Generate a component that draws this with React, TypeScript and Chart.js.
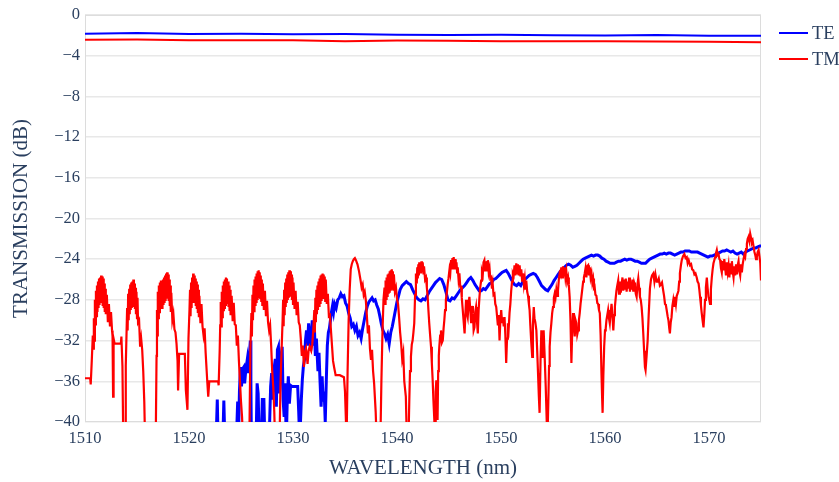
import { useEffect, useRef } from 'react';
import { Chart, registerables } from 'chart.js';

Chart.register(...registerables);

const xTickValues = [1510, 1520, 1530, 1540, 1550, 1560, 1570];
const yTickValues = [0, -4, -8, -12, -16, -20, -24, -28, -32, -36, -40];

const seriesLabels = ['TE', 'TM'];

// upper (through) traces
const teThrough: [number, number][] = [
  [1510, -1.85], [1515, -1.78], [1520, -1.88], [1525, -1.85], [1530, -1.9], [1535, -1.88], [1540, -1.95],
  [1545, -1.98], [1550, -1.95], [1555, -2.0], [1560, -2.02], [1565, -1.97], [1570, -2.05], [1575, -2.05],
];
const tmThrough: [number, number][] = [
  [1510, -2.45], [1515, -2.42], [1520, -2.5], [1525, -2.48], [1530, -2.5], [1535, -2.6], [1540, -2.52],
  [1545, -2.55], [1550, -2.6], [1555, -2.58], [1560, -2.6], [1565, -2.62], [1570, -2.65], [1575, -2.68],
];

// lower (drop) traces
const teDrop: [number, number][] = [
  [1522.6, -42], [1522.72, -37.8], [1522.8, -42], [1523.25, -42], [1523.35, -37.9], [1523.45, -42],
  [1524.55, -42], [1524.68, -38.0], [1524.75, -42], [1524.85, -37.0], [1524.95, -34.6], [1525.05, -36.5],
  [1525.15, -34.8], [1525.27, -34.6], [1525.35, -36.2], [1525.45, -35.0], [1525.6, -33.9], [1525.7, -35.2],
  [1525.8, -33.5], [1525.9, -32.0], [1525.95, -36.0], [1526.0, -42], [1526.45, -42], [1526.55, -36.2],
  [1526.65, -37.2], [1526.75, -42], [1526.95, -42], [1527.05, -37.8], [1527.2, -37.8], [1527.3, -42],
  [1527.7, -42], [1527.85, -36.5], [1527.95, -35.2], [1528.05, -37.8], [1528.15, -35.0], [1528.3, -33.8],
  [1528.4, -38.5], [1528.5, -32.9], [1528.6, -32.6], [1528.7, -37.2], [1528.8, -34.0], [1528.96, -32.6],
  [1529.05, -37.8], [1529.15, -39.5], [1529.25, -36.2], [1529.35, -42], [1529.45, -37.8], [1529.55, -35.5],
  [1529.65, -38.2], [1529.77, -36.4], [1529.9, -36.5], [1530.45, -36.5], [1530.55, -39.0], [1530.65, -42],
  [1530.8, -37.8], [1530.9, -35.8], [1531.0, -34.5], [1531.1, -33.9], [1531.2, -32.0], [1531.3, -31.0],
  [1531.4, -32.5], [1531.5, -30.3], [1531.6, -31.5], [1531.7, -33.0], [1531.85, -30.0], [1531.95, -32.5],
  [1532.05, -30.5], [1532.15, -33.5], [1532.25, -31.8], [1532.4, -35.0], [1532.5, -33.2], [1532.6, -36.0],
  [1532.7, -38.5], [1532.8, -35.5], [1532.9, -38.0], [1533.0, -37.0], [1533.1, -40.0], [1533.2, -36.0],
  [1533.3, -32.5], [1533.4, -31.2], [1533.5, -30.8], [1533.6, -30.0], [1533.7, -29.2], [1533.8, -28.6],
  [1533.9, -29.2], [1534.0, -28.4], [1534.15, -28.8], [1534.3, -28.0], [1534.45, -27.8], [1534.6, -27.4],
  [1534.75, -27.7], [1534.9, -27.6], [1535.05, -28.3], [1535.2, -28.6], [1535.35, -29.3], [1535.5, -29.8],
  [1535.65, -30.6], [1535.8, -30.4], [1535.95, -31.0], [1536.1, -30.6], [1536.25, -31.5], [1536.4, -31.2],
  [1536.55, -31.8], [1536.7, -30.8], [1536.85, -30.0], [1537.0, -29.2], [1537.15, -28.6], [1537.3, -28.2],
  [1537.45, -28.0], [1537.6, -27.8], [1537.75, -28.1], [1537.9, -28.0], [1538.05, -28.5], [1538.2, -28.9],
  [1538.35, -29.6], [1538.5, -30.4], [1538.65, -31.0], [1538.8, -31.3], [1538.95, -31.8], [1539.1, -31.4],
  [1539.25, -32.3], [1539.4, -31.2], [1539.55, -30.6], [1539.7, -29.8], [1539.85, -29.0], [1540.0, -28.2],
  [1540.15, -27.6], [1540.3, -27.0], [1540.5, -26.6], [1540.7, -26.4], [1540.9, -26.2], [1541.1, -26.4],
  [1541.3, -26.5], [1541.5, -27.0], [1541.7, -27.4], [1541.9, -27.8], [1542.1, -28.0], [1542.3, -28.1],
  [1542.5, -27.9], [1542.7, -28.0], [1542.9, -27.6], [1543.1, -27.2], [1543.3, -26.9], [1543.5, -26.6],
  [1543.7, -26.3], [1543.9, -26.1], [1544.1, -25.9], [1544.3, -26.0], [1544.5, -26.5], [1544.7, -27.2],
  [1544.9, -28.0], [1545.1, -28.1], [1545.3, -27.8], [1545.5, -27.9], [1545.7, -27.6], [1545.9, -27.3],
  [1546.1, -27.0], [1546.3, -26.8], [1546.5, -26.6], [1546.7, -26.3], [1546.9, -26.0], [1547.1, -25.8],
  [1547.3, -26.1], [1547.5, -26.5], [1547.7, -26.8], [1547.9, -27.1], [1548.1, -27.1], [1548.3, -26.9],
  [1548.5, -27.0], [1548.7, -26.7], [1548.9, -26.4], [1549.1, -26.3], [1549.3, -26.0], [1549.5, -25.9],
  [1549.7, -25.7], [1549.9, -25.5], [1550.1, -25.3], [1550.3, -25.2], [1550.5, -25.1], [1550.7, -25.4],
  [1550.9, -25.8], [1551.1, -26.2], [1551.3, -26.5], [1551.5, -26.6], [1551.7, -26.4], [1551.9, -26.6],
  [1552.1, -26.2], [1552.3, -26.0], [1552.5, -25.8], [1552.7, -25.6], [1552.9, -25.5], [1553.1, -25.4],
  [1553.3, -25.5], [1553.5, -25.8], [1553.7, -26.2], [1553.9, -26.6], [1554.1, -26.8], [1554.3, -27.0],
  [1554.5, -27.1], [1554.7, -26.8], [1554.9, -26.5], [1555.1, -26.1], [1555.3, -25.8], [1555.5, -25.5],
  [1555.7, -25.2], [1555.9, -25.0], [1556.1, -24.8], [1556.3, -24.6], [1556.5, -24.5], [1556.7, -24.6],
  [1556.9, -24.8], [1557.1, -24.7], [1557.3, -24.6], [1557.5, -24.4], [1557.7, -24.2], [1557.9, -24.0],
  [1558.1, -23.9], [1558.3, -23.8], [1558.5, -23.7], [1558.7, -23.6], [1558.9, -23.7], [1559.1, -23.6],
  [1559.3, -23.6], [1559.5, -23.7], [1559.7, -23.9], [1559.9, -24.0], [1560.1, -24.2], [1560.3, -24.3],
  [1560.5, -24.4], [1560.7, -24.4], [1560.9, -24.4], [1561.1, -24.3], [1561.3, -24.2], [1561.5, -24.2],
  [1561.7, -24.1], [1561.9, -24.0], [1562.1, -24.1], [1562.3, -24.0], [1562.5, -24.0], [1562.7, -24.1],
  [1562.9, -24.2], [1563.1, -24.2], [1563.3, -24.3], [1563.5, -24.4], [1563.7, -24.4], [1563.9, -24.4],
  [1564.1, -24.2], [1564.3, -24.0], [1564.5, -23.9], [1564.7, -23.8], [1564.9, -23.7], [1565.1, -23.6],
  [1565.3, -23.5], [1565.5, -23.5], [1565.7, -23.4], [1565.9, -23.5], [1566.1, -23.4], [1566.3, -23.4],
  [1566.5, -23.5], [1566.7, -23.6], [1566.9, -23.5], [1567.1, -23.4], [1567.3, -23.3], [1567.5, -23.3],
  [1567.7, -23.2], [1567.9, -23.2], [1568.1, -23.2], [1568.3, -23.3], [1568.5, -23.3], [1568.7, -23.3],
  [1568.9, -23.3], [1569.1, -23.4], [1569.3, -23.5], [1569.5, -23.6], [1569.7, -23.7], [1569.9, -23.8],
  [1570.1, -23.7], [1570.3, -23.7], [1570.5, -23.6], [1570.7, -23.5], [1570.9, -23.4], [1571.1, -23.3],
  [1571.3, -23.2], [1571.5, -23.2], [1571.7, -23.1], [1571.9, -23.2], [1572.1, -23.3], [1572.3, -23.2],
  [1572.5, -23.4], [1572.7, -23.5], [1572.9, -23.4], [1573.1, -23.3], [1573.3, -23.5], [1573.5, -23.3],
  [1573.7, -23.2], [1573.9, -23.1], [1574.1, -23.0], [1574.3, -22.9], [1574.5, -22.9], [1574.7, -22.8],
  [1574.9, -22.7], [1575.0, -22.7],
];

const tmDrop: [number, number][] = [
  [1510.0, -35.7], [1510.5, -35.7], [1510.55, -36.3], [1510.65, -34.0], [1510.75, -31.5], [1510.8, -32.8],
  [1510.85, -29.8], [1510.9, -32.0], [1510.95, -28.0], [1511.0, -30.4], [1511.05, -27.1], [1511.1, -29.6],
  [1511.15, -26.6], [1511.2, -29.2], [1511.25, -26.2], [1511.3, -28.8], [1511.35, -25.9], [1511.4, -28.5],
  [1511.45, -25.8], [1511.5, -28.3], [1511.55, -25.6], [1511.6, -28.2], [1511.65, -25.7], [1511.7, -28.6],
  [1511.75, -25.9], [1511.8, -28.8], [1511.85, -26.4], [1511.9, -29.2], [1511.95, -26.9], [1512.0, -29.4],
  [1512.1, -27.5], [1512.2, -30.2], [1512.3, -28.4], [1512.4, -30.6], [1512.5, -29.2], [1512.6, -31.0],
  [1512.65, -31.6], [1512.7, -37.5], [1512.75, -31.8], [1512.85, -32.3], [1513.45, -32.3], [1513.5, -31.6],
  [1513.6, -34.5], [1513.68, -42], [1513.85, -42], [1513.92, -34.5], [1514.0, -31.0], [1514.05, -28.8],
  [1514.1, -31.0], [1514.15, -27.4], [1514.2, -30.0], [1514.25, -26.9], [1514.3, -29.4], [1514.35, -26.5],
  [1514.4, -29.0], [1514.45, -26.3], [1514.5, -28.8], [1514.55, -26.2], [1514.6, -28.7], [1514.65, -26.0],
  [1514.7, -28.5], [1514.75, -26.4], [1514.8, -28.9], [1514.85, -26.8], [1514.9, -29.4], [1514.95, -27.2],
  [1515.0, -29.8], [1515.05, -27.8], [1515.1, -30.2], [1515.2, -30.0], [1515.3, -32.6], [1515.4, -31.8],
  [1515.5, -32.9], [1515.6, -35.0], [1515.7, -38.0], [1515.78, -42], [1516.8, -42], [1516.88, -33.5],
  [1516.92, -29.0], [1516.96, -31.5], [1517.0, -27.2], [1517.05, -29.8], [1517.1, -26.6], [1517.15, -29.2],
  [1517.2, -26.3], [1517.25, -28.8], [1517.3, -26.1], [1517.35, -28.6], [1517.4, -26.4], [1517.45, -28.9],
  [1517.5, -26.0], [1517.55, -28.5], [1517.6, -25.8], [1517.65, -28.3], [1517.7, -25.6], [1517.75, -28.1],
  [1517.8, -25.4], [1517.85, -27.9], [1517.9, -25.3], [1517.95, -27.8], [1518.0, -25.5], [1518.05, -28.1],
  [1518.1, -26.0], [1518.15, -28.6], [1518.2, -26.6], [1518.25, -29.2], [1518.3, -27.3], [1518.4, -30.0],
  [1518.5, -29.4], [1518.6, -30.9], [1518.7, -31.2], [1518.8, -32.3], [1518.9, -34.0], [1518.95, -36.9],
  [1519.05, -33.3], [1519.6, -33.3], [1519.7, -36.9], [1519.85, -38.8], [1519.95, -31.8], [1520.05, -28.9],
  [1520.1, -27.0], [1520.15, -29.6], [1520.2, -26.3], [1520.25, -28.8], [1520.3, -25.8], [1520.35, -28.3],
  [1520.4, -25.4], [1520.45, -28.0], [1520.5, -25.6], [1520.55, -28.3], [1520.6, -25.9], [1520.65, -28.6],
  [1520.7, -26.2], [1520.75, -28.9], [1520.8, -26.5], [1520.85, -29.3], [1520.9, -27.0], [1520.95, -29.7],
  [1521.0, -27.6], [1521.1, -30.3], [1521.2, -28.4], [1521.3, -30.6], [1521.4, -31.5], [1521.5, -30.8],
  [1521.6, -33.2], [1521.75, -35.9], [1521.85, -37.5], [1521.95, -36.0], [1522.8, -36.0], [1522.85, -36.4],
  [1522.95, -33.0], [1523.0, -30.5], [1523.05, -28.2], [1523.1, -30.6], [1523.15, -27.2], [1523.2, -29.7],
  [1523.25, -26.6], [1523.3, -29.0], [1523.35, -26.2], [1523.4, -28.8], [1523.45, -26.0], [1523.5, -28.5],
  [1523.55, -25.8], [1523.6, -28.3], [1523.65, -25.9], [1523.7, -28.4], [1523.75, -26.2], [1523.8, -28.7],
  [1523.85, -26.6], [1523.9, -29.1], [1523.95, -27.0], [1524.0, -29.5], [1524.1, -27.6], [1524.2, -30.1],
  [1524.3, -28.3], [1524.4, -30.4], [1524.5, -30.5], [1524.6, -32.5], [1524.7, -31.5], [1524.8, -34.0],
  [1524.9, -36.0], [1525.0, -38.0], [1525.1, -39.5], [1525.2, -42], [1525.8, -42], [1525.9, -33.0],
  [1526.0, -29.3], [1526.05, -31.6], [1526.1, -27.5], [1526.15, -30.0], [1526.2, -26.6], [1526.25, -29.1],
  [1526.3, -26.0], [1526.35, -28.5], [1526.4, -25.7], [1526.45, -28.2], [1526.5, -25.4], [1526.55, -27.9],
  [1526.6, -25.2], [1526.65, -27.7], [1526.7, -25.1], [1526.75, -27.5], [1526.8, -25.3], [1526.85, -27.8],
  [1526.9, -25.6], [1526.95, -28.1], [1527.0, -26.0], [1527.05, -28.5], [1527.1, -26.4], [1527.2, -29.0],
  [1527.3, -27.1], [1527.4, -29.6], [1527.5, -28.1], [1527.6, -30.2], [1527.7, -31.0], [1527.8, -30.5],
  [1527.9, -32.5], [1528.0, -35.0], [1528.1, -36.5], [1528.2, -39.0], [1528.28, -42], [1528.7, -42],
  [1528.8, -36.2], [1528.9, -33.0], [1529.0, -30.0], [1529.05, -28.0], [1529.1, -30.6], [1529.15, -27.0],
  [1529.2, -29.5], [1529.25, -26.3], [1529.3, -28.7], [1529.35, -25.9], [1529.4, -28.3], [1529.45, -25.5],
  [1529.5, -28.0], [1529.55, -25.3], [1529.6, -27.8], [1529.65, -25.1], [1529.7, -27.6], [1529.75, -25.2],
  [1529.8, -27.7], [1529.85, -25.5], [1529.9, -28.0], [1529.95, -25.8], [1530.0, -28.4], [1530.05, -26.3],
  [1530.15, -28.9], [1530.25, -27.1], [1530.35, -29.5], [1530.45, -28.2], [1530.55, -30.2], [1530.65, -30.5],
  [1530.75, -31.8], [1530.85, -33.5], [1530.95, -32.5], [1531.05, -34.6], [1531.15, -33.2], [1531.25, -32.8],
  [1531.4, -34.3], [1531.5, -33.0], [1531.6, -32.6], [1531.75, -33.0], [1531.85, -32.4], [1531.95, -31.0],
  [1532.05, -29.0], [1532.1, -31.2], [1532.15, -27.8], [1532.2, -30.2], [1532.25, -27.0], [1532.3, -29.4],
  [1532.35, -26.6], [1532.4, -29.0], [1532.45, -26.2], [1532.5, -28.6], [1532.55, -25.9], [1532.6, -28.3],
  [1532.65, -25.6], [1532.7, -28.0], [1532.75, -25.5], [1532.8, -27.8], [1532.85, -25.4], [1532.9, -27.7],
  [1532.95, -25.5], [1533.0, -27.8], [1533.05, -25.7], [1533.1, -28.1], [1533.15, -26.0], [1533.25, -28.4],
  [1533.35, -27.4], [1533.45, -29.6], [1533.55, -29.5], [1533.65, -31.0], [1533.75, -32.5], [1533.85, -34.0],
  [1533.95, -34.6], [1534.1, -35.4], [1534.5, -35.4], [1534.9, -35.6], [1535.0, -37.0], [1535.1, -40.2],
  [1535.15, -42], [1535.25, -35.0], [1535.35, -30.0], [1535.45, -27.0], [1535.55, -25.0], [1535.65, -24.5],
  [1535.75, -24.2], [1535.85, -24.0], [1535.95, -23.9], [1536.05, -24.1], [1536.2, -24.5], [1536.35, -25.2],
  [1536.5, -26.1], [1536.6, -26.8], [1536.7, -26.5], [1536.8, -27.5], [1536.9, -27.2], [1537.0, -28.0],
  [1537.1, -29.5], [1537.2, -31.3], [1537.3, -30.5], [1537.4, -32.8], [1537.5, -33.9], [1537.6, -32.9],
  [1537.7, -35.0], [1537.8, -36.2], [1537.95, -39.0], [1538.05, -42], [1538.4, -42], [1538.5, -36.0],
  [1538.6, -31.3], [1538.7, -28.0], [1538.8, -26.8], [1538.85, -28.4], [1538.9, -26.1], [1538.95, -27.9],
  [1539.0, -25.8], [1539.05, -27.6], [1539.1, -25.5], [1539.15, -27.3], [1539.2, -25.4], [1539.25, -27.2],
  [1539.3, -25.2], [1539.35, -27.0], [1539.4, -25.1], [1539.45, -26.9], [1539.5, -25.0], [1539.55, -26.8],
  [1539.6, -25.2], [1539.65, -27.0], [1539.7, -25.5], [1539.8, -27.2], [1539.9, -26.8], [1540.0, -27.9],
  [1540.1, -28.4], [1540.2, -29.7], [1540.3, -31.2], [1540.4, -32.3], [1540.5, -33.8], [1540.6, -33.2],
  [1540.7, -36.0], [1540.85, -37.5], [1540.95, -42], [1541.1, -42], [1541.18, -38.0], [1541.25, -35.0],
  [1541.34, -33.6], [1541.42, -32.4], [1541.5, -32.0], [1541.58, -31.2], [1541.66, -30.3], [1541.74, -27.5],
  [1541.82, -25.4], [1541.9, -26.4], [1541.95, -24.8], [1542.0, -25.9], [1542.05, -24.5], [1542.1, -25.6],
  [1542.14, -24.3], [1542.2, -25.4], [1542.25, -24.4], [1542.3, -25.4], [1542.35, -24.2], [1542.4, -25.3],
  [1542.47, -24.3], [1542.55, -25.5], [1542.6, -24.7], [1542.7, -26.0], [1542.79, -25.8], [1542.87, -26.8],
  [1542.95, -27.7], [1543.02, -29.0], [1543.1, -30.3], [1543.18, -31.4], [1543.27, -32.6], [1543.35, -34.2],
  [1543.43, -35.9], [1543.5, -37.8], [1543.59, -39.8], [1543.66, -42], [1543.72, -37.0], [1543.78, -35.9],
  [1543.84, -38.0], [1543.9, -39.8], [1543.96, -35.0], [1544.02, -33.5], [1544.07, -32.6], [1544.15, -31.5],
  [1544.23, -31.0], [1544.32, -32.2], [1544.4, -32.0], [1544.48, -30.8], [1544.55, -30.0], [1544.62, -29.0],
  [1544.7, -28.0], [1544.78, -27.4], [1544.88, -26.4], [1544.95, -25.9], [1545.05, -25.0], [1545.12, -25.4],
  [1545.2, -24.1], [1545.27, -25.0], [1545.33, -23.9], [1545.39, -24.9], [1545.45, -23.8], [1545.52, -24.8],
  [1545.58, -24.0], [1545.65, -25.0], [1545.72, -24.3], [1545.78, -25.3], [1545.84, -24.8], [1545.92, -26.0],
  [1546.0, -25.4], [1546.08, -26.7], [1546.16, -26.7], [1546.23, -27.8], [1546.3, -28.7], [1546.4, -30.0],
  [1546.5, -31.3], [1546.57, -29.5], [1546.64, -28.0], [1546.72, -29.3], [1546.8, -29.7], [1546.88, -28.4],
  [1546.96, -27.7], [1547.05, -29.0], [1547.13, -30.3], [1547.22, -28.6], [1547.3, -29.3], [1547.37, -31.0],
  [1547.45, -30.7], [1547.52, -29.2], [1547.6, -28.7], [1547.68, -30.0], [1547.77, -31.3], [1547.85, -29.0],
  [1547.93, -27.7], [1548.0, -26.8], [1548.09, -26.1], [1548.17, -25.2], [1548.25, -25.5], [1548.32, -24.3],
  [1548.4, -24.1], [1548.47, -25.1], [1548.55, -24.2], [1548.62, -25.2], [1548.68, -24.3], [1548.74, -24.1],
  [1548.82, -25.3], [1548.9, -24.9], [1548.97, -25.9], [1549.05, -25.8], [1549.13, -26.9], [1549.2, -26.4],
  [1549.28, -27.5], [1549.37, -27.4], [1549.45, -28.4], [1549.54, -28.7], [1549.62, -29.6], [1549.7, -30.5],
  [1549.78, -29.5], [1549.86, -32.0], [1549.94, -30.0], [1550.02, -29.0], [1550.1, -30.2], [1550.18, -29.7],
  [1550.26, -30.6], [1550.34, -29.7], [1550.42, -31.5], [1550.5, -34.2], [1550.58, -31.8], [1550.66, -30.3],
  [1550.74, -30.8], [1550.82, -29.3], [1550.9, -28.4], [1550.98, -27.1], [1551.06, -26.2], [1551.14, -25.4],
  [1551.22, -25.6], [1551.3, -24.6], [1551.38, -25.6], [1551.47, -24.4], [1551.55, -25.4], [1551.63, -24.5],
  [1551.7, -25.6], [1551.79, -24.6], [1551.87, -25.7], [1551.95, -25.0], [1552.03, -26.1], [1552.11, -25.4],
  [1552.2, -26.5], [1552.28, -25.9], [1552.35, -27.0], [1552.43, -26.1], [1552.52, -27.2], [1552.6, -27.6],
  [1552.68, -28.4], [1552.75, -29.0], [1552.82, -30.5], [1552.9, -32.0], [1553.0, -33.6], [1553.07, -30.5],
  [1553.15, -28.7], [1553.22, -29.8], [1553.3, -30.2], [1553.4, -31.0], [1553.48, -33.0], [1553.56, -35.2],
  [1553.64, -37.5], [1553.71, -39.1], [1553.8, -34.0], [1553.88, -31.0], [1553.95, -33.6], [1554.02, -32.0],
  [1554.1, -31.0], [1554.2, -33.6], [1554.3, -36.5], [1554.4, -40.0], [1554.46, -42], [1554.55, -38.0],
  [1554.62, -34.5], [1554.68, -32.6], [1554.76, -31.2], [1554.84, -30.3], [1554.92, -29.3], [1555.0, -28.7],
  [1555.08, -27.8], [1555.16, -27.4], [1555.24, -27.8], [1555.32, -27.0], [1555.4, -27.6], [1555.48, -27.1],
  [1555.56, -26.0], [1555.64, -25.4], [1555.72, -25.6], [1555.8, -24.8], [1555.88, -25.8], [1555.96, -24.7],
  [1556.04, -25.7], [1556.12, -24.8], [1556.2, -25.8], [1556.28, -25.2], [1556.36, -26.2], [1556.45, -25.8],
  [1556.52, -26.5], [1556.6, -27.7], [1556.68, -30.0], [1556.77, -34.2], [1556.85, -31.0], [1556.93, -29.3],
  [1557.01, -30.5], [1557.09, -31.6], [1557.17, -30.0], [1557.25, -30.3], [1557.33, -31.4], [1557.41, -31.0],
  [1557.49, -30.0], [1557.57, -29.3], [1557.65, -28.4], [1557.73, -27.7], [1557.81, -27.0], [1557.9, -26.2],
  [1557.97, -25.8], [1558.05, -25.4], [1558.13, -24.9], [1558.21, -25.8], [1558.3, -24.7], [1558.38, -24.6],
  [1558.46, -25.6], [1558.54, -24.8], [1558.62, -25.8], [1558.7, -25.4], [1558.78, -26.3], [1558.86, -25.9],
  [1558.94, -26.8], [1559.0, -26.7], [1559.08, -27.5], [1559.17, -27.6], [1559.26, -28.3], [1559.34, -28.4],
  [1559.42, -29.0], [1559.5, -29.3], [1559.58, -31.5], [1559.66, -35.2], [1559.72, -37.5], [1559.77, -39.1],
  [1559.84, -35.5], [1559.92, -32.6], [1560.0, -31.0], [1560.07, -30.8], [1560.14, -30.0], [1560.22, -29.5],
  [1560.3, -29.0], [1560.38, -29.8], [1560.46, -30.3], [1560.55, -29.2], [1560.63, -28.4], [1560.71, -29.4],
  [1560.8, -31.0], [1560.88, -29.5], [1560.95, -28.7], [1561.03, -27.8], [1561.1, -27.1], [1561.18, -26.6],
  [1561.27, -26.1], [1561.35, -27.4], [1561.43, -26.2], [1561.52, -27.3], [1561.6, -26.4], [1561.68, -25.8],
  [1561.76, -27.1], [1561.84, -26.0], [1561.92, -27.0], [1562.0, -25.9], [1562.08, -27.2], [1562.16, -26.2],
  [1562.24, -26.9], [1562.32, -25.8], [1562.4, -27.2], [1562.48, -26.2], [1562.56, -27.0], [1562.64, -26.0],
  [1562.72, -27.2], [1562.8, -26.3], [1562.88, -26.6], [1562.96, -27.4], [1563.04, -27.7], [1563.12, -26.5],
  [1563.2, -25.9], [1563.28, -26.8], [1563.36, -27.7], [1563.44, -28.0], [1563.52, -28.7], [1563.6, -29.8],
  [1563.68, -31.3], [1563.76, -33.0], [1563.84, -34.6], [1563.9, -34.9], [1564.0, -33.5], [1564.1, -32.0],
  [1564.2, -29.5], [1564.32, -26.9], [1564.42, -26.0], [1564.52, -25.6], [1564.65, -25.4], [1564.75, -26.2],
  [1564.85, -25.5], [1564.97, -26.2], [1565.07, -26.2], [1565.17, -25.9], [1565.28, -26.6], [1565.38, -26.5],
  [1565.48, -26.3], [1565.6, -27.1], [1565.68, -27.6], [1565.77, -28.4], [1565.85, -28.5], [1565.93, -29.0],
  [1566.02, -29.6], [1566.1, -30.0], [1566.18, -30.8], [1566.24, -31.3], [1566.32, -30.2], [1566.4, -29.7],
  [1566.48, -28.6], [1566.57, -28.0], [1566.65, -28.6], [1566.73, -27.7], [1566.82, -28.4], [1566.9, -27.6],
  [1566.98, -27.4], [1567.06, -27.1], [1567.13, -26.2], [1567.2, -25.4], [1567.3, -24.6], [1567.38, -24.1],
  [1567.5, -23.7], [1567.63, -23.5], [1567.75, -23.9], [1567.86, -23.8], [1567.95, -24.4], [1568.05, -24.1],
  [1568.18, -24.6], [1568.28, -24.5], [1568.38, -25.0], [1568.5, -25.1], [1568.6, -25.5], [1568.7, -25.4],
  [1568.82, -25.8], [1568.9, -26.2], [1569.0, -26.4], [1569.07, -27.0], [1569.14, -27.7], [1569.22, -28.5],
  [1569.3, -29.3], [1569.38, -30.0], [1569.47, -30.7], [1569.55, -29.4], [1569.62, -28.0], [1569.7, -26.8],
  [1569.79, -25.8], [1569.87, -26.9], [1569.95, -27.7], [1570.03, -28.0], [1570.1, -28.4], [1570.18, -27.0],
  [1570.27, -25.8], [1570.35, -25.0], [1570.43, -24.4], [1570.51, -24.1], [1570.59, -23.8], [1570.67, -23.4],
  [1570.75, -23.1], [1570.83, -23.6], [1570.92, -23.5], [1571.0, -24.0], [1571.07, -24.1], [1571.15, -24.9],
  [1571.23, -25.3], [1571.31, -24.2], [1571.4, -25.1], [1571.47, -24.0], [1571.55, -24.8], [1571.63, -25.6],
  [1571.72, -24.3], [1571.8, -25.2], [1571.88, -24.6], [1571.96, -25.8], [1572.04, -24.4], [1572.12, -25.4],
  [1572.2, -24.2], [1572.28, -25.2], [1572.36, -25.8], [1572.44, -24.7], [1572.52, -25.6], [1572.6, -24.5],
  [1572.68, -25.5], [1572.76, -24.6], [1572.84, -24.2], [1572.92, -25.2], [1573.0, -25.6], [1573.08, -24.5],
  [1573.16, -25.3], [1573.24, -24.5], [1573.32, -24.0], [1573.4, -23.6], [1573.48, -23.8], [1573.56, -23.0],
  [1573.64, -22.5], [1573.72, -22.0], [1573.8, -21.8], [1573.88, -22.2], [1573.96, -21.5], [1574.04, -21.9],
  [1574.12, -22.4], [1574.2, -22.2], [1574.29, -22.8], [1574.37, -23.3], [1574.45, -23.6], [1574.52, -24.0],
  [1574.6, -23.8], [1574.68, -23.3], [1574.77, -23.1], [1574.85, -23.7], [1574.93, -24.4], [1575.0, -26.1],
];

const TEXT = '#2a3f5f';
const FONT = '"Liberation Serif", "Times New Roman", serif';
const BLUE = '#0000ff';
const RED = '#ff0000';

const toPts = (arr: [number, number][]) => arr.map(([x, y]) => ({ x, y }));

export default function App() {
  const ref = useRef<HTMLCanvasElement>(null);

  useEffect(() => {
    document.body.style.margin = '0';
    const canvas = ref.current;
    if (!canvas) return;

    const framePlugin = {
      id: 'framePlugin',
      beforeDatasetsDraw(chart: any) {
        const { ctx, chartArea: a } = chart;
        ctx.save();
        ctx.strokeStyle = '#dcdcdc';
        ctx.lineWidth = 1;
        ctx.strokeRect(a.left + 0.5, a.top + 0.5, a.right - a.left - 1, a.bottom - a.top - 1);
        ctx.restore();
      },
    };

    const legendPlugin = {
      id: 'sideLegend',
      afterDraw(chart: any) {
        const { ctx, chartArea: a } = chart;
        const items = chart.data.datasets.filter((d: any) => d.inLegend);
        ctx.save();
        items.forEach((d: any, i: number) => {
          const y = 33 + i * 26;
          const x0 = a.right + 18;
          ctx.strokeStyle = d.borderColor;
          ctx.lineWidth = 2;
          ctx.beginPath();
          ctx.moveTo(x0, y);
          ctx.lineTo(x0 + 29, y);
          ctx.stroke();
          ctx.fillStyle = TEXT;
          ctx.font = `18.5px ${FONT}`;
          ctx.textBaseline = 'middle';
          ctx.textAlign = 'left';
          ctx.fillText(d.label, x0 + 33, y + 1);
        });
        ctx.restore();
      },
    };

    const chart = new Chart(canvas, {
      type: 'line',
      data: {
        datasets: [
          { label: seriesLabels[0], data: toPts(teDrop), borderColor: BLUE, borderWidth: 3, order: 2, inLegend: true } as any,
          { label: seriesLabels[1], data: toPts(tmDrop), borderColor: RED, borderWidth: 2.2, order: 1, inLegend: true } as any,
          { label: seriesLabels[0] + ' through', data: toPts(teThrough), borderColor: BLUE, borderWidth: 2, order: 2 } as any,
          { label: seriesLabels[1] + ' through', data: toPts(tmThrough), borderColor: RED, borderWidth: 2, order: 1 } as any,
        ],
      },
      options: {
        responsive: false,
        animation: false,
        devicePixelRatio: 1,
        layout: { padding: { left: 0, right: 78, top: 14, bottom: 0 } },
        elements: { point: { radius: 0 }, line: { tension: 0, fill: false } },
        plugins: { legend: { display: false }, tooltip: { enabled: false } },
        scales: {
          x: {
            type: 'linear',
            min: 1510,
            max: 1575,
            grid: { display: false, drawTicks: false },
            border: { display: false },
            afterBuildTicks: (scale: any) => {
              scale.ticks = xTickValues.map((v) => ({ value: v }));
            },
            afterFit: (scale: any) => {
              scale.height = 60;
            },
            ticks: {
              color: TEXT,
              font: { family: FONT, size: 16.5 },
              padding: 7,
              maxRotation: 0,
              callback: (v: any) => String(v),
            },
            title: {
              display: true,
              text: 'WAVELENGTH (nm)',
              color: TEXT,
              font: { family: FONT, size: 21 },
              padding: { top: 0, bottom: 1 },
            },
          },
          y: {
            type: 'linear',
            min: -40,
            max: 0,
            grid: { color: '#e8e8e8', lineWidth: 1.5, drawTicks: false },
            border: { display: false },
            afterBuildTicks: (scale: any) => {
              scale.ticks = yTickValues.map((v) => ({ value: v }));
            },
            afterFit: (scale: any) => {
              scale.width = 85;
            },
            ticks: {
              color: TEXT,
              font: { family: FONT, size: 16.5 },
              padding: 5,
              callback: (v: any) => (Number(v) < 0 ? '\u2212' + Math.abs(Number(v)) : String(v)),
            },
            title: {
              display: true,
              text: 'TRANSMISSION (dB)',
              color: TEXT,
              font: { family: FONT, size: 21 },
              padding: { top: 9, bottom: 0 },
            },
          },
        },
      },
      plugins: [framePlugin, legendPlugin],
    } as any);

    return () => chart.destroy();
  }, []);

  return (
    <div style={{ width: 839, height: 482 }}>
      <canvas ref={ref} width={839} height={482} style={{ display: 'block' }} />
    </div>
  );
}
